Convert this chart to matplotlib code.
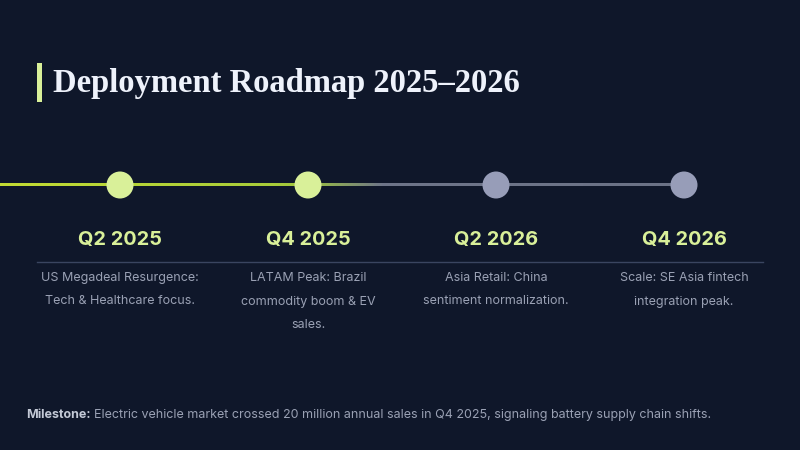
import matplotlib
matplotlib.use("Agg")
import matplotlib.pyplot as plt
import numpy as np
from matplotlib.patches import Circle, Rectangle
from matplotlib.colors import LinearSegmentedColormap

# data
title = "Deployment Roadmap 2025\u20132026"
quarters = ["Q2 2025", "Q4 2025", "Q2 2026", "Q4 2026"]
done = [True, True, False, False]
descriptions = [
    ["US Megadeal Resurgence:", "Tech & Healthcare focus."],
    ["LATAM Peak: Brazil", "commodity boom & EV", "sales."],
    ["Asia Retail: China", "sentiment normalization."],
    ["Scale: SE Asia fintech", "integration peak."],
]
note_head = "Milestone:"
note_body = ("Electric vehicle market crossed 20 million annual sales in Q4 2025, "
             "signaling battery supply chain shifts.")

BG = "#0f172a"
LIME = "#d9f099"
GRAY_DOT = "#979db8"
TXT = "#9aa1b4"

fig = plt.figure(figsize=(8, 4.5), dpi=100, facecolor=BG)
ax = fig.add_axes([0, 0, 1, 1])
ax.set_facecolor(BG)
ax.set_xlim(0, 800)
ax.set_ylim(450, 0)
ax.axis("off")

# title + accent bar
ax.add_patch(Rectangle((37, 63), 5, 39, color=LIME, lw=0))
ax.text(53, 92, title, color="#eef2fb", fontsize=23.5, fontweight="bold",
        family="Liberation Serif", va="baseline", ha="left")

# timeline
col_w = 188
x0 = 120
xs = [x0 + i * col_w for i in range(len(quarters))]
line_y = 185

cmap = LinearSegmentedColormap.from_list(
    "tl", [(0, "#c3dc34"), (0.40, "#a8cc3a"), (0.45, "#9cc23f"),
           (0.56, "#6e7589"), (1, "#6b7286")])
grad = np.linspace(0, 1, 600).reshape(1, -1)
ax.imshow(grad, cmap=cmap, aspect="auto", interpolation="bilinear",
          extent=(0, xs[-1], line_y + 1.5, line_y - 1.5), zorder=1)
ax.set_xlim(0, 800)
ax.set_ylim(450, 0)

for x, d in zip(xs, done):
    ax.add_patch(Circle((x, line_y), 13.5, color=LIME if d else GRAY_DOT,
                        zorder=3, lw=0))

# separator
ax.plot([37, 763], [262, 262], color="#3a4560", lw=1, zorder=1)

for x, q, lines in zip(xs, quarters, descriptions):
    ax.text(x, 245, q, color=LIME, fontsize=14.3, fontweight="bold",
            family="Inter", ha="center", va="baseline")
    for k, ln in enumerate(lines):
        ax.text(x, 281 + k * 23.5, ln, color=TXT, fontsize=9.0,
                family="Inter", ha="center", va="baseline")

# milestone note
t = ax.text(26, 418, note_head, color="#c3c9d6", fontsize=9.0,
            fontweight="bold", family="Inter", va="baseline")
fig.canvas.draw()
bb = t.get_window_extent()
x_end = ax.transData.inverted().transform((bb.x1, bb.y0))[0]
ax.text(x_end + 3.5, 418, note_body, color=TXT, fontsize=9.0,
        family="Inter", va="baseline")

fig.savefig("out.png", dpi=100, facecolor=BG)
